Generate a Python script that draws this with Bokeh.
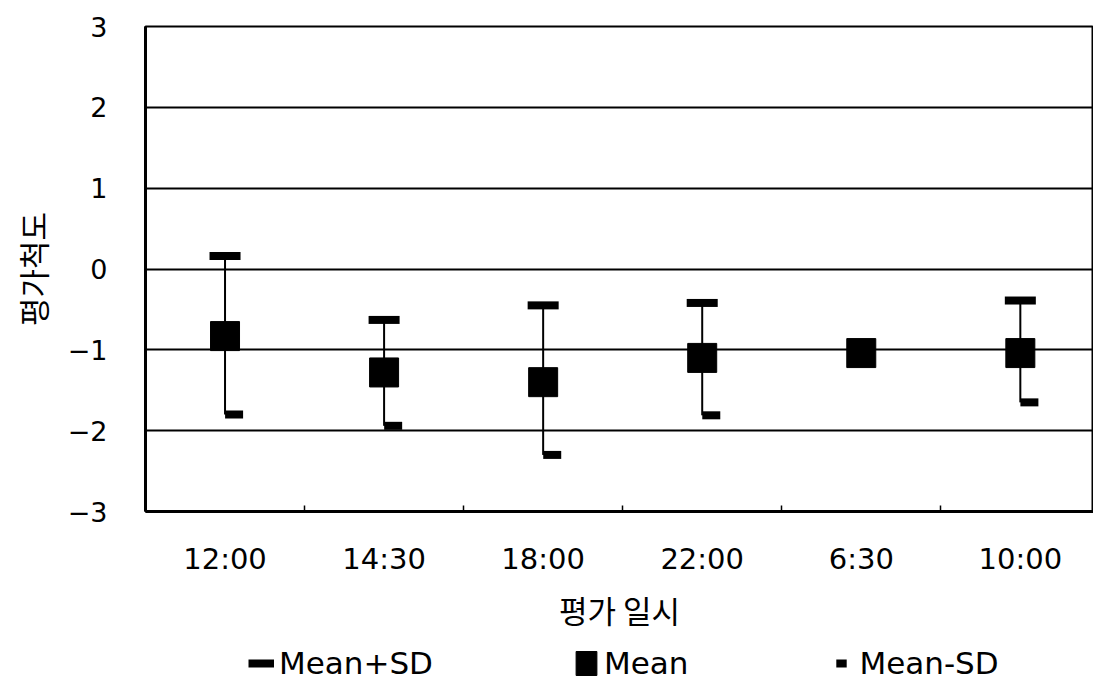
from bokeh.plotting import figure
from bokeh.layouts import column
from bokeh.models import Range1d, FixedTicker, Legend, LegendItem, ColumnDataSource
from bokeh.embed import file_html
from bokeh.resources import INLINE

nan = float("nan")

# ---- data ----
times = ["12:00", "14:30", "18:00", "22:00", "6:30", "10:00"]
mean = [-0.83, -1.28, -1.40, -1.10, -1.04, -1.04]
mean_plus_sd = [0.16, -0.63, -0.45, -0.42, nan, -0.39]
mean_minus_sd = [-1.80, -1.94, -2.30, -1.81, nan, -1.65]
y_ticks = [-3, -2, -1, 0, 1, 2, 3]
y_tick_labels = ["\u22123", "\u22122", "\u22121", "0", "1", "2", "3"]
x_title = "평가 일시"
y_title = "평가척도"
legend_labels = ["Mean+SD", "Mean", "Mean-SD"]

LATIN = "DejaVu Sans"
KOREAN = "Noto Sans CJK KR"

xs = [i + 0.5 for i in range(len(times))]
cap_half = 0.0975      # half width of the upper cap (style)
low_shift = 0.057      # lower cap sits to the right of the stem (style)

src = ColumnDataSource(dict(
    x=xs, mean=mean, up=mean_plus_sd, lo=mean_minus_sd,
    x0=[x - cap_half for x in xs], x1=[x + cap_half for x in xs],
    xl=[x + low_shift for x in xs],
))

p = figure(width=1093, height=640, output_backend="svg", toolbar_location=None,
           x_range=Range1d(0, 5.96), y_range=Range1d(-3, 3),
           min_border_left=145, min_border_right=0, min_border_top=26,
           min_border_bottom=129)
p.background_fill_color = "white"
p.border_fill_color = "white"
p.outline_line_color = "black"
p.outline_line_width = 2
p.outline_line_alpha = 1

# grid
p.xgrid.visible = False
p.ygrid.ticker = FixedTicker(ticks=y_ticks)
p.ygrid.grid_line_color = "black"
p.ygrid.grid_line_width = 2
p.ygrid.grid_line_alpha = 1

# y axis
ya = p.yaxis[0]
ya.ticker = FixedTicker(ticks=y_ticks)
ya.major_label_overrides = dict(zip(y_ticks, y_tick_labels))
ya.major_tick_in = 0
ya.major_tick_out = 0
ya.minor_tick_in = 0
ya.minor_tick_out = 0
ya.axis_line_width = 3
ya.axis_line_color = "black"
ya.major_label_standoff = 38
ya.major_label_text_font = LATIN
ya.major_label_text_font_size = "27px"
ya.major_label_text_color = "black"
ya.axis_label = y_title
ya.axis_label_text_font = KOREAN
ya.axis_label_text_font_size = "31px"
ya.axis_label_text_font_style = "normal"
ya.axis_label_text_color = "black"
ya.axis_label_standoff = 10

# x axis
xa = p.xaxis[0]
xa.ticker = FixedTicker(ticks=xs, minor_ticks=list(range(1, len(times))))
xa.major_label_overrides = dict(zip(xs, times))
xa.major_tick_in = 0
xa.major_tick_out = 0
xa.minor_tick_in = 6
xa.minor_tick_out = 0
xa.minor_tick_line_color = "black"
xa.minor_tick_line_width = 1.5
xa.axis_line_width = 3
xa.axis_line_color = "black"
xa.major_label_standoff = 30
xa.major_label_text_font = LATIN
xa.major_label_text_font_size = "29px"
xa.major_label_text_color = "black"
xa.axis_label = x_title
xa.axis_label_text_font = KOREAN
xa.axis_label_text_font_size = "31px"
xa.axis_label_text_font_style = "normal"
xa.axis_label_text_color = "black"
xa.axis_label_standoff = 8

# glyphs
p.segment(x0="x", y0="lo", x1="x", y1="up", source=src,
          line_color="black", line_width=2)
p.segment(x0="x0", y0="up", x1="x1", y1="up", source=src,
          line_color="black", line_width=8)
p.scatter(x="xl", y="lo", source=src, marker="dash", size=18,
          line_color="black", line_width=8)
p.rect(x="x", y="mean", width=29, height=29, width_units="screen",
       height_units="screen", source=src, fill_color="black",
       line_color="black")

# ---- legend strip under the chart (same styles, glyphs kept off-frame) ----
q = figure(width=1093, height=50, output_backend="svg", toolbar_location=None,
           x_range=Range1d(100, 101), y_range=Range1d(100, 101),
           min_border_left=0, min_border_right=0, min_border_top=0,
           min_border_bottom=0)
q.axis.visible = False
q.grid.visible = False
q.outline_line_color = None
q.background_fill_color = "white"
q.border_fill_color = "white"
l_up = q.segment(x0="x0", y0="up", x1="x1", y1="up", source=src,
                 line_color="black", line_width=8)
l_mean = q.rect(x="x", y="mean", width=29, height=29, width_units="screen",
                height_units="screen", source=src, fill_color="black",
                line_color="black")
l_lo = q.scatter(x="xl", y="lo", source=src, marker="dash", size=18,
                 line_color="black", line_width=8)

legend = Legend(items=[
    LegendItem(label=legend_labels[0], renderers=[l_up]),
    LegendItem(label=legend_labels[1], renderers=[l_mean]),
    LegendItem(label=legend_labels[2], renderers=[l_lo]),
], orientation="horizontal", glyph_width=26, glyph_height=30,
    label_standoff=5, spacing=140, padding=0, margin=0,
    border_line_color=None, background_fill_alpha=0,
    label_text_font=LATIN, label_text_font_size="31px",
    label_text_color="black", location=(103, 9))
q.add_layout(legend, "center")

open("out.html", "w").write(file_html(column(p, q, spacing=0), INLINE))
